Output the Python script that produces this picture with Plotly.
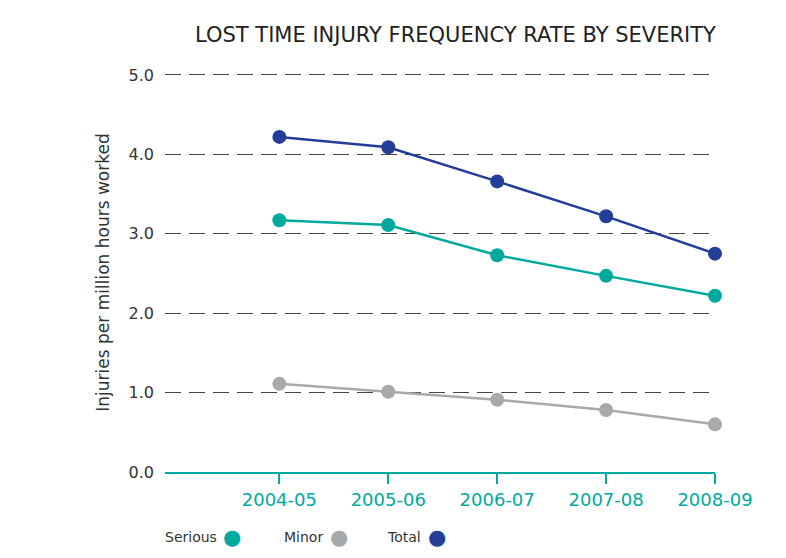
import plotly.graph_objects as go

years = ["2004-05", "2005-06", "2006-07", "2007-08", "2008-09"]
serious = [3.17, 3.11, 2.73, 2.47, 2.22]
minor = [1.11, 1.01, 0.91, 0.78, 0.60]
total = [4.22, 4.09, 3.66, 3.22, 2.75]
y_ticks = [0, 1, 2, 3, 4, 5]
y_tick_labels = ["0.0", "1.0", "2.0", "3.0", "4.0", "5.0"]

series = [
    ("Serious", serious, "#00a99d"),
    ("Minor", minor, "#a7a9ac"),
    ("Total", total, "#233d99"),
]

FONT = "DejaVu Sans"
# page body has an 8px margin; plot area in page px: x 165..715, y 73..472
L, R, T, B = 157, 79, 65, 94
PW, PH = 786 - L - R, 558 - T - B


def px_x(px):
    return (px - 8 - L) / PW


def px_y(py):
    return (558 - B + 8 - py) / PH


fig = go.Figure()
for name, vals, col in series:
    fig.add_trace(go.Scatter(
        x=years, y=vals, name=name, mode="lines+markers",
        line=dict(color=col, width=2.5),
        marker=dict(color=col, size=14),
        cliponaxis=False, showlegend=False,
    ))

fig.update_layout(
    width=786, height=558,
    margin=dict(l=L, r=R, t=T, b=B, autoexpand=False),
    paper_bgcolor="white", plot_bgcolor="white",
    font=dict(family=FONT, color="#333333"),
    xaxis=dict(
        type="category", range=[-1.05, 4],
        showgrid=False, showline=True, linecolor="#00a99d", linewidth=2,
        ticks="outside", ticklen=10, tickcolor="#00a99d", tickwidth=1.5,
        tickfont=dict(size=18, color="#00a99d"),
    ),
    yaxis=dict(
        range=[0, 5.025], tickvals=y_ticks, ticktext=y_tick_labels,
        showgrid=True, gridcolor="#444444", gridwidth=1, griddash="16px,8px",
        zeroline=False, showline=False, ticks="",
        tickfont=dict(size=16, color="#333333"), ticklabelstandoff=10,
        title=dict(text="Injuries per million hours worked",
                   font=dict(size=17, color="#333333"), standoff=14),
    ),
)

fig.add_annotation(
    text="LOST TIME INJURY FREQUENCY RATE BY SEVERITY",
    xref="paper", yref="paper", x=px_x(718), y=px_y(35),
    xanchor="right", yanchor="middle", showarrow=False,
    font=dict(size=21, color="#222222", family=FONT),
)

leg_text_x = [163, 282, 385]
leg_dot_x = [232, 339, 437]
for (name, vals, col), tx, dx in zip(series, leg_text_x, leg_dot_x):
    fig.add_annotation(text=name, xref="paper", yref="paper",
                       x=px_x(tx), y=px_y(537),
                       xanchor="left", yanchor="middle", showarrow=False,
                       font=dict(size=14, color="#333333"))
    fig.add_annotation(text="●", xref="paper", yref="paper",
                       x=px_x(dx), y=px_y(537),
                       xanchor="center", yanchor="middle", showarrow=False,
                       font=dict(size=21, color=col))

fig.write_html("out.html")
